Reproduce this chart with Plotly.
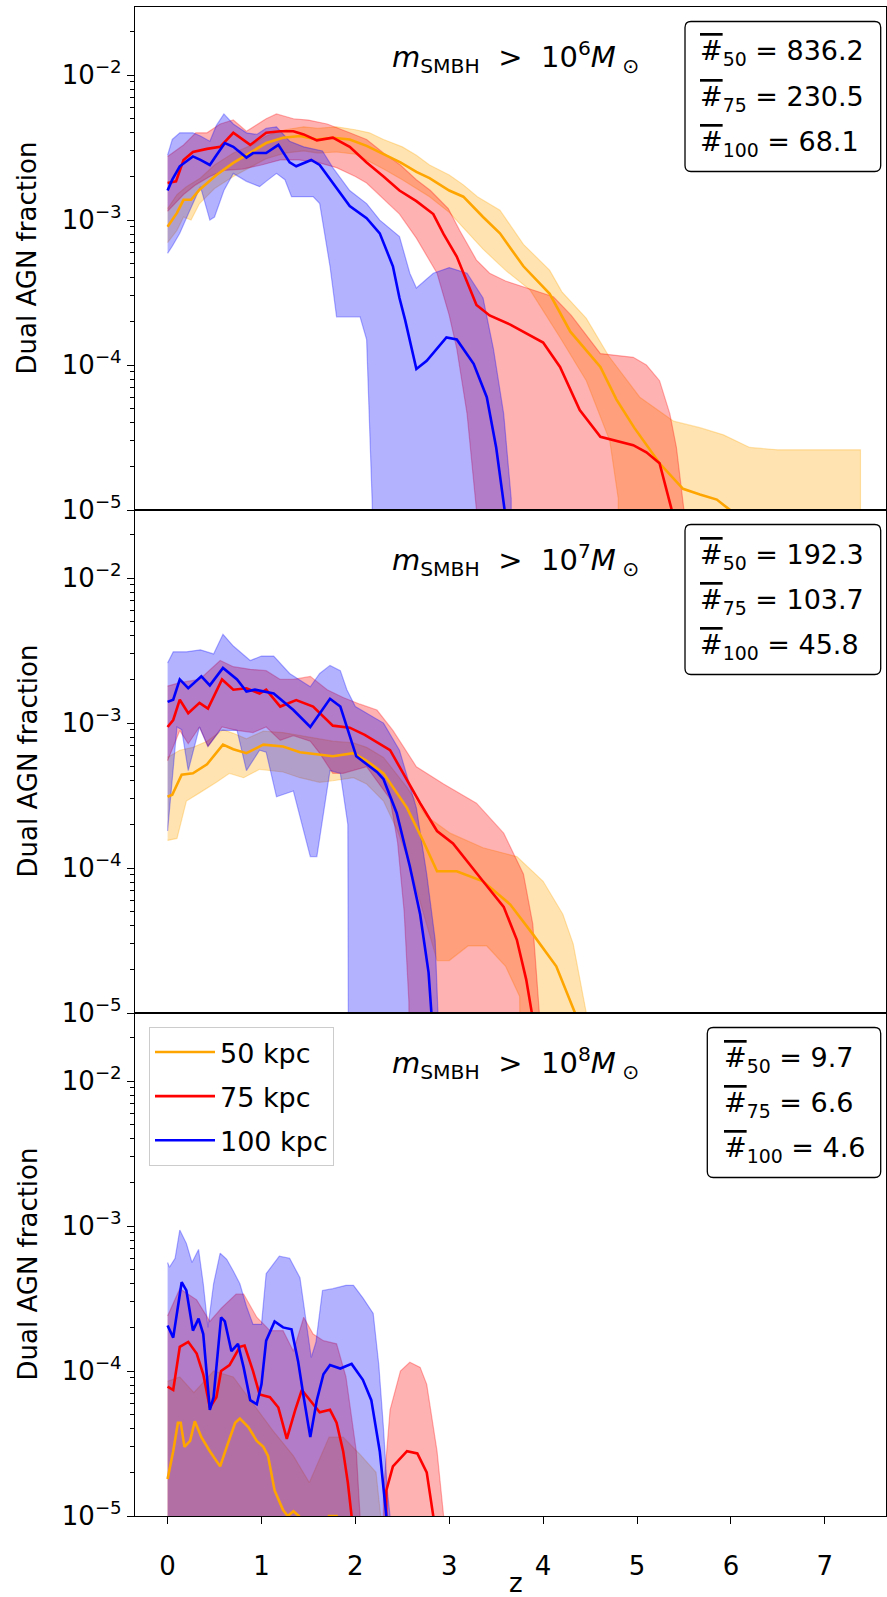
import numpy as np
import plotly.graph_objects as go
from plotly.subplots import make_subplots

# ---------------- data ----------------
LABELS = ["50 kpc", "75 kpc", "100 kpc"]
SEPS = ["50", "75", "100"]
COLORS = ["#FFA500", "#FF0000", "#0000FF"]
FILLS = ["rgba(255,165,0,0.3)", "rgba(255,0,0,0.3)", "rgba(0,0,255,0.3)"]
MASS_EXP = ["6", "7", "8"]
COUNTS = [["836.2", "230.5", "68.1"], ["192.3", "103.7", "45.8"], ["9.7", "6.6", "4.6"]]
Y_TICKVALS = [1e-5, 1e-4, 1e-3, 1e-2]
Y_TICKTEXT = ["10<sup>\u22125</sup>", "10<sup>\u22124</sup>", "10<sup>\u22123</sup>", "10<sup>\u22122</sup>"]
X_TICKVALS = [0, 1, 2, 3, 4, 5, 6, 7]

# ---- panel 1: m_SMBH > 1e6 ----
P1_50_MED = [(0, 9.0e-4), (0.1, 1.12e-3), (0.17, 1.38e-3), (0.25, 1.38e-3), (0.34, 1.62e-3), (0.52, 2.05e-3),
             (0.70, 2.48e-3), (0.88, 2.9e-3), (1.05, 3.4e-3), (1.23, 3.7e-3), (1.41, 3.8e-3), (1.59, 3.6e-3),
             (1.76, 3.7e-3), (1.94, 3.6e-3), (2.12, 3.25e-3), (2.30, 2.85e-3), (2.48, 2.5e-3), (2.65, 2.15e-3),
             (2.79, 1.95e-3), (3.0, 1.6e-3), (3.15, 1.45e-3), (3.36, 1.05e-3), (3.54, 8.1e-4), (3.79, 4.8e-4),
             (4.07, 3.1e-4), (4.29, 1.7e-4), (4.61, 9.7e-5), (4.78, 5.8e-5), (4.97, 3.7e-5), (5.24, 2.1e-5),
             (5.49, 1.4e-5), (5.67, 1.28e-5), (5.85, 1.18e-5), (5.99, 1.0e-5), (6.05, 0)]
P1_50_HI = [(0, 1.2e-3), (0.1, 1.5e-3), (0.2, 1.7e-3), (0.35, 1.95e-3), (0.5, 2.4e-3), (0.7, 2.9e-3),
            (0.9, 3.3e-3), (1.05, 3.8e-3), (1.25, 4.2e-3), (1.45, 4.4e-3), (1.6, 4.3e-3), (1.8, 4.4e-3),
            (2.0, 4.2e-3), (2.15, 4.0e-3), (2.3, 3.6e-3), (2.5, 3.2e-3), (2.65, 2.8e-3), (2.79, 2.4e-3),
            (3.0, 2.05e-3), (3.15, 1.75e-3), (3.3, 1.45e-3), (3.54, 1.17e-3), (3.79, 6.8e-4), (4.07, 4.5e-4),
            (4.2, 3.2e-4), (4.46, 2.1e-4), (4.7, 1.15e-4), (5.03, 6.0e-5), (5.39, 4.1e-5), (5.67, 3.7e-5),
            (5.92, 3.3e-5), (6.2, 2.7e-5), (6.5, 2.6e-5), (7.38, 2.6e-5)]
P1_50_LO = [(0, 7.0e-4), (0.1, 8.5e-4), (0.17, 1.05e-3), (0.25, 1.0e-3), (0.34, 1.3e-3), (0.5, 1.65e-3),
            (0.7, 2.0e-3), (0.9, 2.35e-3), (1.05, 2.65e-3), (1.25, 2.9e-3), (1.45, 3.0e-3), (1.6, 2.9e-3),
            (1.8, 2.95e-3), (2.0, 2.85e-3), (2.12, 2.6e-3), (2.3, 2.25e-3), (2.5, 1.9e-3), (2.65, 1.65e-3),
            (2.79, 1.45e-3), (3.0, 1.13e-3), (3.18, 8.5e-4), (3.36, 6.3e-4), (3.6, 4.5e-4), (3.86, 3.3e-4),
            (4.18, 1.55e-4), (4.46, 7.8e-5), (4.71, 3.0e-5), (4.80, 1.2e-5), (4.82, 0), (7.38, 0)]

P1_75_MED = [(0, 1.8e-3), (0.09, 1.85e-3), (0.17, 2.6e-3), (0.27, 2.95e-3), (0.42, 3.1e-3), (0.56, 3.2e-3),
             (0.70, 4.0e-3), (0.80, 3.6e-3), (0.88, 3.3e-3), (1.05, 4.0e-3), (1.2, 4.1e-3), (1.34, 4.1e-3),
             (1.45, 3.9e-3), (1.59, 3.55e-3), (1.76, 3.7e-3), (1.94, 3.2e-3), (2.12, 2.5e-3), (2.30, 2.0e-3),
             (2.47, 1.6e-3), (2.65, 1.35e-3), (2.83, 1.1e-3), (2.94, 8.0e-4), (3.08, 5.6e-4), (3.29, 2.6e-4),
             (3.43, 2.2e-4), (3.65, 1.9e-4), (4.0, 1.43e-4), (4.18, 9.7e-5), (4.39, 4.9e-5), (4.61, 3.2e-5),
             (4.85, 2.9e-5), (4.96, 2.8e-5), (5.1, 2.5e-5), (5.24, 2.1e-5), (5.37, 1.0e-5), (5.42, 0)]
P1_75_HI = [(0, 2.75e-3), (0.17, 3.3e-3), (0.3, 4.0e-3), (0.42, 4.0e-3), (0.56, 4.6e-3), (0.70, 4.9e-3),
            (0.84, 4.1e-3), (1.05, 5.0e-3), (1.16, 5.4e-3), (1.34, 5.0e-3), (1.5, 4.9e-3), (1.7, 4.6e-3),
            (1.94, 4.0e-3), (2.12, 3.6e-3), (2.3, 2.9e-3), (2.48, 2.4e-3), (2.65, 1.9e-3), (2.8, 1.6e-3),
            (2.99, 1.2e-3), (3.11, 8.5e-4), (3.29, 5.3e-4), (3.43, 4.3e-4), (3.6, 3.8e-4), (3.90, 3.3e-4),
            (4.11, 2.96e-4), (4.3, 2.2e-4), (4.61, 1.2e-4), (4.96, 1.13e-4), (5.10, 1.0e-4), (5.24, 7.8e-5),
            (5.35, 4.6e-5), (5.42, 2.7e-5), (5.50, 1.0e-5), (5.53, 0)]
P1_75_LO = [(0, 1.15e-3), (0.17, 1.5e-3), (0.3, 1.75e-3), (0.45, 2.0e-3), (0.6, 2.2e-3), (0.8, 2.25e-3),
            (1.0, 2.4e-3), (1.2, 2.6e-3), (1.4, 2.6e-3), (1.6, 2.5e-3), (1.8, 2.3e-3), (2.0, 2.0e-3),
            (2.12, 1.8e-3), (2.3, 1.4e-3), (2.47, 1.1e-3), (2.65, 7.5e-4), (2.87, 4.3e-4), (3.0, 2.2e-4),
            (3.08, 1.3e-4), (3.19, 4.6e-5), (3.29, 1.0e-5), (3.31, 0), (5.53, 0)]

P1_100_MED = [(0, 1.6e-3), (0.05, 1.9e-3), (0.13, 2.35e-3), (0.27, 2.75e-3), (0.35, 2.6e-3), (0.45, 2.4e-3),
              (0.52, 2.8e-3), (0.61, 3.4e-3), (0.70, 3.2e-3), (0.84, 2.7e-3), (0.91, 2.9e-3), (1.05, 2.9e-3),
              (1.18, 3.3e-3), (1.30, 2.5e-3), (1.37, 2.35e-3), (1.53, 2.6e-3), (1.62, 2.4e-3), (1.76, 1.8e-3),
              (1.94, 1.25e-3), (2.12, 1.03e-3), (2.26, 8.1e-4), (2.40, 4.8e-4), (2.47, 2.9e-4), (2.53, 2.05e-4),
              (2.65, 9.4e-5), (2.76, 1.07e-4), (2.97, 1.55e-4), (3.08, 1.5e-4), (3.26, 1.02e-4), (3.40, 6.0e-5),
              (3.50, 2.7e-5), (3.59, 1.0e-5), (3.62, 0)]
P1_100_HI = [(0, 2.8e-3), (0.05, 3.6e-3), (0.13, 4.0e-3), (0.27, 4.0e-3), (0.35, 3.8e-3), (0.45, 3.5e-3),
             (0.52, 4.5e-3), (0.6, 5.4e-3), (0.7, 4.6e-3), (0.84, 4.0e-3), (0.95, 3.9e-3), (1.05, 4.3e-3),
             (1.16, 4.4e-3), (1.3, 3.5e-3), (1.45, 3.2e-3), (1.55, 3.1e-3), (1.65, 3.0e-3), (1.76, 2.3e-3),
             (1.94, 1.6e-3), (2.12, 1.3e-3), (2.26, 1.0e-3), (2.47, 7.7e-4), (2.58, 4.3e-4), (2.65, 3.4e-4),
             (2.83, 4.3e-4), (3.0, 4.7e-4), (3.19, 4.3e-4), (3.36, 2.9e-4), (3.47, 1.3e-4), (3.58, 4.6e-5),
             (3.66, 1.2e-5), (3.68, 0)]
P1_100_LO = [(0, 5.9e-4), (0.05, 6.6e-4), (0.13, 8.1e-4), (0.22, 1.1e-3), (0.35, 1.7e-3), (0.45, 1.0e-3),
             (0.5, 1.05e-3), (0.6, 1.6e-3), (0.7, 2.1e-3), (0.84, 1.85e-3), (0.98, 1.7e-3), (1.05, 1.85e-3),
             (1.16, 2.1e-3), (1.25, 1.9e-3), (1.32, 1.45e-3), (1.55, 1.45e-3), (1.62, 1.3e-3), (1.73, 4.8e-4),
             (1.8, 2.15e-4), (2.05, 2.15e-4), (2.12, 1.5e-4), (2.18, 1.1e-5), (2.2, 0), (3.68, 0)]

# ---- panel 2: m_SMBH > 1e7 ----
P2_50_MED = [(0, 3.1e-4), (0.05, 3.2e-4), (0.15, 4.4e-4), (0.27, 4.5e-4), (0.42, 5.2e-4), (0.59, 7.1e-4),
             (0.70, 6.6e-4), (0.84, 6.2e-4), (1.02, 7.1e-4), (1.23, 6.9e-4), (1.41, 6.3e-4), (1.76, 5.9e-4),
             (1.98, 6.2e-4), (2.12, 5.5e-4), (2.30, 4.5e-4), (2.55, 2.6e-4), (2.72, 1.55e-4), (2.87, 9.5e-5),
             (3.08, 9.5e-5), (3.36, 8.1e-5), (3.65, 5.6e-5), (3.89, 3.5e-5), (4.14, 2.1e-5), (4.29, 1.2e-5),
             (4.34, 1.0e-5), (4.37, 0)]
P2_50_HI = [(0, 5.8e-4), (0.13, 6.5e-4), (0.27, 6.8e-4), (0.42, 7.5e-4), (0.59, 9.0e-4), (0.70, 8.5e-4),
            (0.84, 7.8e-4), (1.02, 8.8e-4), (1.23, 8.6e-4), (1.41, 8.2e-4), (1.76, 7.5e-4), (1.98, 7.3e-4),
            (2.12, 6.8e-4), (2.30, 5.8e-4), (2.55, 3.6e-4), (2.75, 2.3e-4), (3.01, 1.74e-4), (3.36, 1.38e-4),
            (3.72, 1.2e-4), (4.0, 8.1e-5), (4.21, 4.8e-5), (4.32, 3.0e-5), (4.42, 1.4e-5), (4.46, 1.0e-5),
            (4.48, 0)]
P2_50_LO = [(0, 1.55e-4), (0.1, 1.6e-4), (0.2, 2.9e-4), (0.34, 3.3e-4), (0.52, 3.9e-4), (0.66, 4.5e-4),
            (0.81, 4.2e-4), (0.98, 4.8e-4), (1.23, 4.6e-4), (1.41, 4.2e-4), (1.62, 3.9e-4), (1.76, 4.0e-4),
            (1.98, 4.2e-4), (2.12, 3.8e-4), (2.30, 2.9e-4), (2.45, 1.8e-4), (2.55, 1.2e-4), (2.72, 5.0e-5),
            (2.87, 2.3e-5), (3.0, 2.3e-5), (3.2, 2.9e-5), (3.4, 2.9e-5), (3.6, 2.1e-5), (3.75, 1.3e-5),
            (3.8, 0), (4.48, 0)]

P2_75_MED = [(0, 9.4e-4), (0.06, 1.05e-3), (0.13, 1.45e-3), (0.22, 1.17e-3), (0.34, 1.38e-3), (0.43, 1.26e-3),
             (0.58, 2.0e-3), (0.70, 1.7e-3), (0.84, 1.74e-3), (0.98, 1.6e-3), (1.05, 1.7e-3), (1.20, 1.3e-3),
             (1.37, 1.44e-3), (1.55, 1.3e-3), (1.76, 9.6e-4), (1.94, 9.3e-4), (2.10, 8.3e-4), (2.23, 7.4e-4),
             (2.37, 6.5e-4), (2.51, 4.5e-4), (2.69, 2.8e-4), (2.87, 1.8e-4), (3.04, 1.48e-4), (3.36, 8.1e-5),
             (3.58, 5.4e-5), (3.72, 3.2e-5), (3.82, 1.7e-5), (3.88, 1.0e-5), (3.9, 0)]
P2_75_HI = [(0, 1.8e-3), (0.13, 1.9e-3), (0.34, 2.0e-3), (0.56, 2.7e-3), (0.70, 2.45e-3), (0.88, 2.35e-3),
            (1.05, 2.3e-3), (1.2, 2.0e-3), (1.34, 2.0e-3), (1.52, 2.1e-3), (1.7, 1.7e-3), (1.87, 1.5e-3),
            (2.05, 1.35e-3), (2.23, 1.23e-3), (2.40, 8.9e-4), (2.65, 5.0e-4), (2.94, 3.8e-4), (3.29, 2.8e-4),
            (3.58, 1.74e-4), (3.79, 9.1e-5), (3.89, 4.1e-5), (3.96, 1.0e-5), (3.98, 0)]
P2_75_LO = [(0, 5.5e-4), (0.13, 8.9e-4), (0.22, 7.2e-4), (0.34, 9.4e-4), (0.43, 6.9e-4), (0.58, 9.4e-4),
            (0.74, 8.9e-4), (0.91, 8.6e-4), (1.05, 9.4e-4), (1.20, 7.6e-4), (1.34, 8.2e-4), (1.52, 7.5e-4),
            (1.62, 6.2e-4), (1.76, 4.5e-4), (1.87, 4.5e-4), (2.12, 5.0e-4), (2.37, 3.0e-4), (2.45, 1.5e-4),
            (2.52, 5.0e-5), (2.57, 1.2e-5), (2.6, 0), (3.98, 0)]

P2_100_MED = [(0, 1.4e-3), (0.06, 1.45e-3), (0.13, 2.0e-3), (0.22, 1.74e-3), (0.36, 2.1e-3), (0.45, 1.82e-3),
              (0.59, 2.4e-3), (0.74, 2.0e-3), (0.84, 1.65e-3), (0.93, 1.7e-3), (1.13, 1.6e-3), (1.34, 1.23e-3),
              (1.52, 9.4e-4), (1.73, 1.47e-3), (1.84, 1.3e-3), (2.01, 5.9e-4), (2.23, 4.6e-4), (2.30, 4.1e-4),
              (2.44, 2.4e-4), (2.58, 1.03e-4), (2.69, 4.8e-5), (2.78, 1.9e-5), (2.81, 1.0e-5), (2.83, 0)]
P2_100_HI = [(0, 2.6e-3), (0.06, 3.1e-3), (0.2, 3.1e-3), (0.35, 3.2e-3), (0.49, 3.0e-3), (0.59, 4.1e-3),
             (0.70, 3.4e-3), (0.88, 2.7e-3), (1.0, 2.9e-3), (1.13, 2.9e-3), (1.30, 2.2e-3), (1.52, 1.78e-3),
             (1.62, 2.2e-3), (1.73, 2.5e-3), (1.84, 2.3e-3), (1.91, 1.7e-3), (2.0, 1.3e-3), (2.30, 1.0e-3),
             (2.47, 6.5e-4), (2.65, 2.6e-4), (2.76, 9.1e-5), (2.85, 3.2e-5), (2.88, 1.0e-5), (2.9, 0)]
P2_100_LO = [(0, 1.8e-4), (0.1, 9.4e-4), (0.15, 9.0e-4), (0.22, 4.7e-4), (0.34, 9.4e-4), (0.43, 6.9e-4),
             (0.56, 8.9e-4), (0.74, 8.9e-4), (0.84, 4.7e-4), (0.98, 6.5e-4), (1.05, 6.3e-4), (1.16, 3.1e-4),
             (1.34, 3.4e-4), (1.52, 1.2e-4), (1.59, 1.2e-4), (1.73, 4.7e-4), (1.84, 4.5e-4), (1.92, 2.0e-4),
             (1.94, 0), (2.9, 0)]

# ---- panel 3: m_SMBH > 1e8 ----
P3_50_MED = [(0, 1.8e-5), (0.06, 2.8e-5), (0.11, 4.4e-5), (0.14, 4.4e-5), (0.18, 3.0e-5), (0.24, 3.3e-5),
             (0.29, 4.5e-5), (0.36, 3.5e-5), (0.45, 2.8e-5), (0.56, 2.2e-5), (0.63, 3.0e-5), (0.72, 4.4e-5),
             (0.77, 4.7e-5), (0.86, 4.1e-5), (0.95, 3.3e-5), (1.02, 3.0e-5), (1.07, 2.6e-5), (1.14, 1.5e-5),
             (1.23, 1.1e-5), (1.28, 1.0e-5), (1.34, 1.08e-5), (1.40, 1.0e-5), (1.45, 0), (1.71, 0),
             (1.72, 1.0e-5), (1.80, 1.0e-5), (1.81, 0), (2.29, 0)]
P3_50_HI = [(0, 8.5e-5), (0.13, 9.1e-5), (0.28, 7.1e-5), (0.49, 1.0e-4), (0.70, 9.1e-5), (0.91, 5.9e-5),
            (1.12, 3.9e-5), (1.34, 2.6e-5), (1.51, 1.7e-5), (1.72, 3.5e-5), (1.87, 3.5e-5), (2.04, 2.7e-5),
            (2.22, 2.0e-5), (2.27, 1.0e-5), (2.29, 0)]
P3_50_LO = [(0, 0), (2.29, 0)]

P3_75_MED = [(0, 7.8e-5), (0.06, 7.4e-5), (0.13, 1.47e-4), (0.22, 1.59e-4), (0.31, 1.32e-4), (0.38, 9.5e-5),
             (0.45, 5.6e-5), (0.52, 6.6e-5), (0.57, 1.0e-4), (0.66, 1.1e-4), (0.77, 1.47e-4), (0.82, 1.5e-4),
             (0.91, 1.0e-4), (0.98, 6.9e-5), (1.09, 6.6e-5), (1.18, 5.6e-5), (1.27, 3.4e-5), (1.36, 5.4e-5),
             (1.43, 7.4e-5), (1.52, 6.3e-5), (1.62, 5.2e-5), (1.73, 5.4e-5), (1.80, 4.4e-5), (1.87, 2.8e-5),
             (1.92, 1.7e-5), (1.96, 1.0e-5), (1.98, 0), (2.28, 0), (2.33, 1.5e-5), (2.40, 2.2e-5),
             (2.55, 2.8e-5), (2.66, 2.7e-5), (2.76, 2.0e-5), (2.83, 1.0e-5), (2.85, 0)]
P3_75_HI = [(0, 2.4e-4), (0.13, 3.7e-4), (0.31, 3.1e-4), (0.45, 2.2e-4), (0.57, 2.7e-4), (0.73, 3.4e-4),
            (0.81, 3.4e-4), (0.95, 2.35e-4), (1.09, 1.9e-4), (1.23, 1.9e-4), (1.34, 1.37e-4), (1.45, 2.35e-4),
            (1.55, 1.8e-4), (1.66, 1.62e-4), (1.80, 1.54e-4), (1.90, 9.1e-5), (2.01, 2.8e-5), (2.05, 1.0e-5),
            (2.07, 0), (2.25, 0), (2.30, 1.5e-5), (2.37, 5.4e-5), (2.48, 1.0e-4), (2.58, 1.15e-4),
            (2.69, 1.06e-4), (2.76, 8.1e-5), (2.87, 2.8e-5), (2.94, 1.0e-5), (2.96, 0)]
P3_75_LO = [(0, 0), (2.96, 0)]

P3_100_MED = [(0, 2.06e-4), (0.06, 1.7e-4), (0.15, 4.1e-4), (0.20, 3.6e-4), (0.27, 1.9e-4), (0.33, 2.3e-4),
              (0.38, 1.8e-4), (0.45, 5.4e-5), (0.49, 6.6e-5), (0.57, 2.35e-4), (0.61, 2.2e-4), (0.68, 1.37e-4),
              (0.75, 1.54e-4), (0.81, 1.06e-4), (0.88, 6.3e-5), (0.95, 5.9e-5), (1.0, 8.1e-5), (1.05, 1.62e-4),
              (1.14, 2.2e-4), (1.23, 2.0e-4), (1.32, 1.94e-4), (1.39, 1.17e-4), (1.45, 6.6e-5), (1.52, 3.5e-5),
              (1.59, 6.3e-5), (1.66, 9.5e-5), (1.73, 1.1e-4), (1.84, 1.04e-4), (1.96, 1.12e-4), (2.08, 8.7e-5),
              (2.17, 6.3e-5), (2.26, 2.8e-5), (2.33, 1.0e-5), (2.35, 0)]
P3_100_HI = [(0, 5.6e-4), (0.02, 5.2e-4), (0.08, 6.0e-4), (0.13, 9.4e-4), (0.20, 7.6e-4), (0.26, 5.6e-4),
             (0.33, 6.9e-4), (0.38, 4.0e-4), (0.43, 2.0e-4), (0.49, 4.0e-4), (0.56, 6.5e-4), (0.63, 5.9e-4),
             (0.70, 4.9e-4), (0.77, 4.0e-4), (0.84, 2.8e-4), (0.91, 2.1e-4), (1.0, 2.1e-4), (1.05, 4.7e-4),
             (1.19, 6.2e-4), (1.30, 6.0e-4), (1.41, 4.4e-4), (1.48, 2.1e-4), (1.53, 1.24e-4), (1.58, 1.58e-4),
             (1.65, 3.6e-4), (1.76, 3.7e-4), (1.90, 3.9e-4), (1.98, 3.9e-4), (2.08, 3.2e-4), (2.19, 2.5e-4),
             (2.25, 1.1e-4), (2.30, 4.0e-5), (2.34, 1.5e-5), (2.37, 1.0e-5), (2.38, 0)]
P3_100_LO = [(0, 0), (2.38, 0)]

PANELS = [
    [(P1_50_MED, P1_50_LO, P1_50_HI), (P1_75_MED, P1_75_LO, P1_75_HI), (P1_100_MED, P1_100_LO, P1_100_HI)],
    [(P2_50_MED, P2_50_LO, P2_50_HI), (P2_75_MED, P2_75_LO, P2_75_HI), (P2_100_MED, P2_100_LO, P2_100_HI)],
    [(P3_50_MED, P3_50_LO, P3_50_HI), (P3_75_MED, P3_75_LO, P3_75_HI), (P3_100_MED, P3_100_LO, P3_100_HI)],
]

# ---------------- layout geometry (pixels) ----------------
W, H = 887, 1597
ML, MR, MT, MB = 135, 1, 7, 81
PW = W - ML - MR
PH = H - MT - MB
PANEL_H = PH / 3.0
FONT = "DejaVu Sans"
FLOOR = 1e-9  # zero fractions are drawn far below the visible range


def px_x(p):
    return (p - ML) / PW


def px_y(p):
    return 1 - (p - MT) / PH


def xy(pairs):
    z = np.array([p[0] for p in pairs], dtype=float)
    v = np.array([p[1] for p in pairs], dtype=float)
    return z, np.where(v > 0, v, FLOOR)


def rounded_box(x0, y0, x1, y1, r=6):
    pts = [("M", x0 + r, y0), ("L", x1 - r, y0), ("Q", x1, y0, x1, y0 + r), ("L", x1, y1 - r),
           ("Q", x1, y1, x1 - r, y1), ("L", x0 + r, y1), ("Q", x0, y1, x0, y1 - r), ("L", x0, y0 + r),
           ("Q", x0, y0, x0 + r, y0)]
    out = []
    for seg in pts:
        cmd = seg[0]
        coords = seg[1:]
        s = []
        for i in range(0, len(coords), 2):
            s.append(f"{px_x(coords[i]):.5f},{px_y(coords[i + 1]):.5f}")
        out.append(cmd + " " + " ".join(s))
    return " ".join(out) + " Z"


fig = make_subplots(rows=3, cols=1, shared_xaxes=True, vertical_spacing=0)

for r, panel in enumerate(PANELS, start=1):
    # shaded ranges first
    for k, (med, lo, hi) in enumerate(panel):
        zh, vh = xy(hi)
        zl, vl = xy(lo)
        fig.add_trace(go.Scatter(x=np.concatenate([zh, zl[::-1]]), y=np.concatenate([vh, vl[::-1]]),
                                 mode="lines", fill="toself", fillcolor=FILLS[k],
                                 line=dict(color=FILLS[k], width=1.2), hoverinfo="skip",
                                 showlegend=False), row=r, col=1)
    # median lines on top
    for k, (med, lo, hi) in enumerate(panel):
        zm, vm = xy(med)
        fig.add_trace(go.Scatter(x=zm, y=vm, mode="lines", name=LABELS[k], legendgroup=LABELS[k],
                                 line=dict(color=COLORS[k], width=2.6), showlegend=(r == 3)),
                      row=r, col=1)

axis_common = dict(showline=True, mirror=True, linecolor="black", linewidth=1.2, showgrid=False,
                   zeroline=False, automargin=False)
for r in range(1, 4):
    fig.update_yaxes(type="log", range=[-5, -1.53], tickmode="array", tickvals=Y_TICKVALS,
                     ticktext=Y_TICKTEXT, ticks="outside", ticklen=7, tickwidth=1.2, tickcolor="black",
                     tickfont=dict(family=FONT, size=26, color="black"),
                     minor=dict(ticks="outside", ticklen=4, tickwidth=1, tickcolor="black", dtick="D1",
                                showgrid=False),
                     **axis_common, row=r, col=1)
    fig.update_xaxes(range=[-0.347, 7.652], **axis_common, row=r, col=1)
    if r < 3:
        fig.update_xaxes(ticks="", showticklabels=False, row=r, col=1)

fig.update_xaxes(tickmode="array", tickvals=X_TICKVALS, ticks="outside", ticklen=7, tickwidth=1.2,
                 tickcolor="black", showticklabels=True, ticklabelstandoff=20,
                 tickfont=dict(family=FONT, size=26, color="black"),
                 row=3, col=1)

annotations = []
shapes = []
# x-axis title, placed below the bottom panel
annotations.append(dict(text="z", x=px_x(516), y=-(1583 - (MT + PH)) / PANEL_H,
                        xref="paper", yref="y3 domain",
                        showarrow=False, xanchor="center", yanchor="middle",
                        font=dict(family=FONT, size=26, color="black")))
for i in range(3):
    top = MT + i * PANEL_H
    # y-axis title
    annotations.append(dict(text="Dual AGN fraction", x=px_x(27), y=px_y(top + PANEL_H / 2),
                            xref="paper", yref="paper", textangle=-90, showarrow=False,
                            xanchor="center", yanchor="middle",
                            font=dict(family=FONT, size=26, color="black")))
    # mass threshold label
    annotations.append(dict(text=f"<i>m</i><sub>SMBH</sub>  >  10<sup>{MASS_EXP[i]}</sup><i>M</i><sub> \u2299</sub>",
                            x=px_x(515), y=px_y(top + 50), xref="paper", yref="paper", showarrow=False,
                            xanchor="center", yanchor="middle",
                            font=dict(family=FONT, size=29, color="black")))
    # counts box
    bx0 = 685 if i < 2 else 707.3
    tx = 698 if i < 2 else 721.7
    shapes.append(dict(type="path", path=rounded_box(bx0, top + 14.5, 880.7, top + 164.5),
                       xref="paper", yref="paper", line=dict(color="black", width=1.3),
                       fillcolor="rgba(255,255,255,0.8)", layer="above"))
    for j in range(3):
        annotations.append(dict(
            text=f"<span style='text-decoration:overline'>#</span><sub>{SEPS[j]}</sub> = {COUNTS[i][j]}",
            x=px_x(tx), y=px_y(top + 46 + 45.3 * j), xref="paper", yref="paper",
            showarrow=False, xanchor="left", yanchor="middle",
            font=dict(family=FONT, size=27, color="black")))

fig.update_layout(
    width=W, height=H,
    margin=dict(l=ML, r=MR, t=MT, b=MB, autoexpand=False),
    paper_bgcolor="white", plot_bgcolor="white",
    font=dict(family=FONT, size=26, color="black"),
    showlegend=True,
    legend=dict(x=px_x(149), y=px_y(1027), xanchor="left", yanchor="top",
                bgcolor="rgba(255,255,255,0.8)", bordercolor="#cccccc", borderwidth=1,
                font=dict(family=FONT, size=27, color="black"), traceorder="grouped",
                itemwidth=60, tracegroupgap=6),
    annotations=annotations,
    shapes=shapes,
)

fig.write_html("out.html")
